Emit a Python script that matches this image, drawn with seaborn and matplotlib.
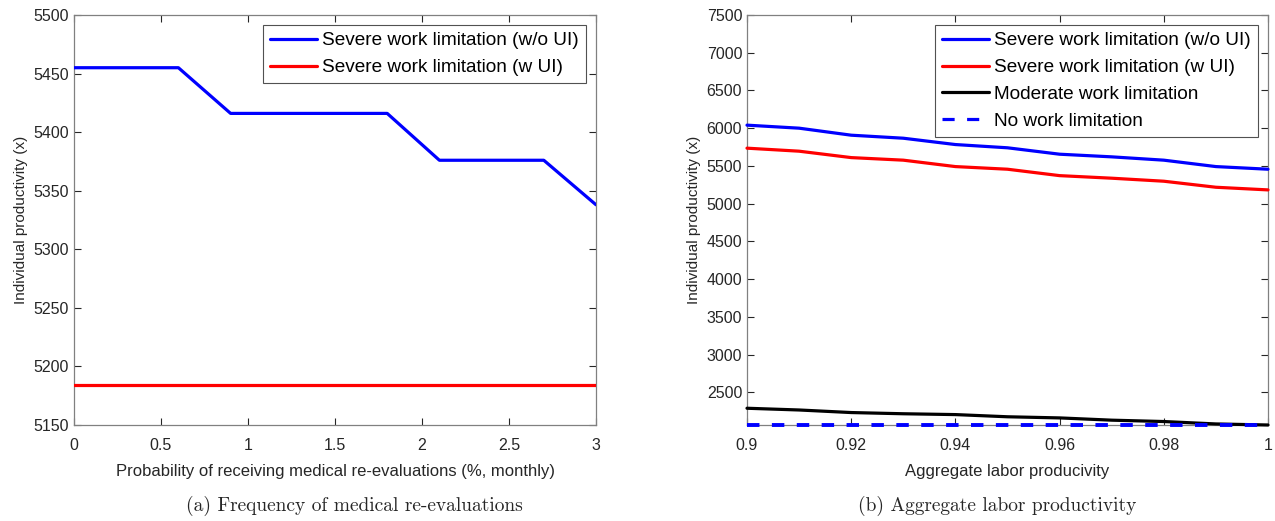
import numpy as np
import pandas as pd
import matplotlib
matplotlib.use("Agg")
import matplotlib.pyplot as plt
import seaborn as sns

# Panel (a): probability of medical re-evaluation (%, monthly)
reeval_prob = [0.0, 0.3, 0.6, 0.9, 1.2, 1.5, 1.8, 2.1, 2.4, 2.7, 3.0]
severe_no_ui_a = [5455, 5455, 5455, 5416, 5416, 5416, 5416, 5376, 5376, 5376, 5338]
severe_ui_a = [5184] * 11

# Panel (b): aggregate labor productivity
agg_prod = [0.90, 0.91, 0.92, 0.93, 0.94, 0.95, 0.96, 0.97, 0.98, 0.99, 1.00]
severe_no_ui_b = [6040, 6000, 5907, 5867, 5783, 5740, 5655, 5620, 5576, 5491, 5456]
severe_ui_b = [5735, 5695, 5610, 5576, 5491, 5456, 5371, 5337, 5297, 5217, 5182]
moderate_b = [2288, 2265, 2231, 2215, 2204, 2175, 2160, 2130, 2112, 2080, 2066]
no_limit_b = [2066] * 11

labels = ["Severe work limitation (w/o UI)", "Severe work limitation (w UI)",
          "Moderate work limitation", "No work limitation"]

sns.set_theme(style="white")
plt.rcParams["font.family"] = ["Liberation Sans", "DejaVu Sans"]
text_col = "#262626"

fig = plt.figure(figsize=(12.75, 5.21), dpi=100)
ax1 = fig.add_axes([74 / 1275, 1 - 425 / 521, (596 - 74) / 1275, (425 - 15) / 521])
ax2 = fig.add_axes([747 / 1275, 1 - 425 / 521, (1268 - 747) / 1275, (425 - 15) / 521])

df_a = pd.DataFrame({
    "x": reeval_prob * 2,
    "y": severe_no_ui_a + severe_ui_a,
    "series": [labels[0]] * 11 + [labels[1]] * 11,
})
sns.lineplot(data=df_a, x="x", y="y", hue="series",
             palette=["#0000ff", "#ff0000"], linewidth=2.3, ax=ax1)

df_b = pd.DataFrame({
    "x": agg_prod * 4,
    "y": severe_no_ui_b + severe_ui_b + moderate_b + no_limit_b,
    "series": sum([[l] * 11 for l in labels], []),
})
sns.lineplot(data=df_b, x="x", y="y", hue="series", style="series",
             palette=["#0000ff", "#ff0000", "#000000", "#0000ff"],
             dashes=[(None, None), (None, None), (None, None), (3.8, 3.9)],
             linewidth=2.3, ax=ax2)
for ln in ax2.get_lines():
    ln.set_clip_on(False)
    ln.set_zorder(3)
ax2.get_lines()[3].set_linewidth(2.8)
ax2.get_lines()[3].set_dashes((3.2, 3.2))

ax1.set_xlim(0, 3)
ax1.set_ylim(5150, 5500)
ax1.set_xticks(np.arange(0, 3.01, 0.5))
ax1.set_xticklabels(["0", "0.5", "1", "1.5", "2", "2.5", "3"])
ax1.set_yticks(np.arange(5150, 5501, 50))
ax1.set_xlabel("Probability of receiving medical re-evaluations (%, monthly)",
               fontsize=12, color=text_col, labelpad=8)
ax1.set_ylabel("Individual productivity (x)", fontsize=11, color=text_col)

ax2.set_xlim(0.9, 1.0)
ax2.set_ylim(2066, 7500)
ax2.set_xticks(agg_prod[::2])
ax2.set_xticklabels(["0.9", "0.92", "0.94", "0.96", "0.98", "1"])
ax2.set_yticks(np.arange(2500, 7501, 500))
ax2.set_xlabel("Aggregate labor producivity", fontsize=12, color=text_col,
               labelpad=8)
ax2.set_ylabel("Individual productivity (x)", fontsize=11, color=text_col)

for ax in (ax1, ax2):
    for sp in ax.spines.values():
        sp.set_visible(True)
        sp.set_color("#808080")
        sp.set_linewidth(0.9)
        sp.set_zorder(1)
    ax.tick_params(direction="in", length=5, width=0.8, color="#262626",
                   labelsize=11.5, labelcolor=text_col,
                   top=True, right=True, bottom=True, left=True)
    ax.tick_params(axis="x", pad=9)
    leg = ax.legend(loc="upper right", fontsize=13.7, handlelength=2.5,
                    frameon=True, fancybox=False, borderaxespad=0.55,
                    labelspacing=0.5, handletextpad=0.25, borderpad=0.35)
    leg.set_zorder(5)
    leg.get_frame().set_edgecolor("#262626")
    leg.get_frame().set_linewidth(0.8)
    for t in leg.get_texts():
        t.set_color("#000000")

fig.text(354 / 1275, 1 - 506 / 521, "(a) Frequency of medical re-evaluations",
         ha="center", va="center", fontsize=14, family="cmr10")
fig.text(997 / 1275, 1 - 506 / 521, "(b) Aggregate labor productivity",
         ha="center", va="center", fontsize=14, family="cmr10")

fig.savefig("out.png", dpi=100)
